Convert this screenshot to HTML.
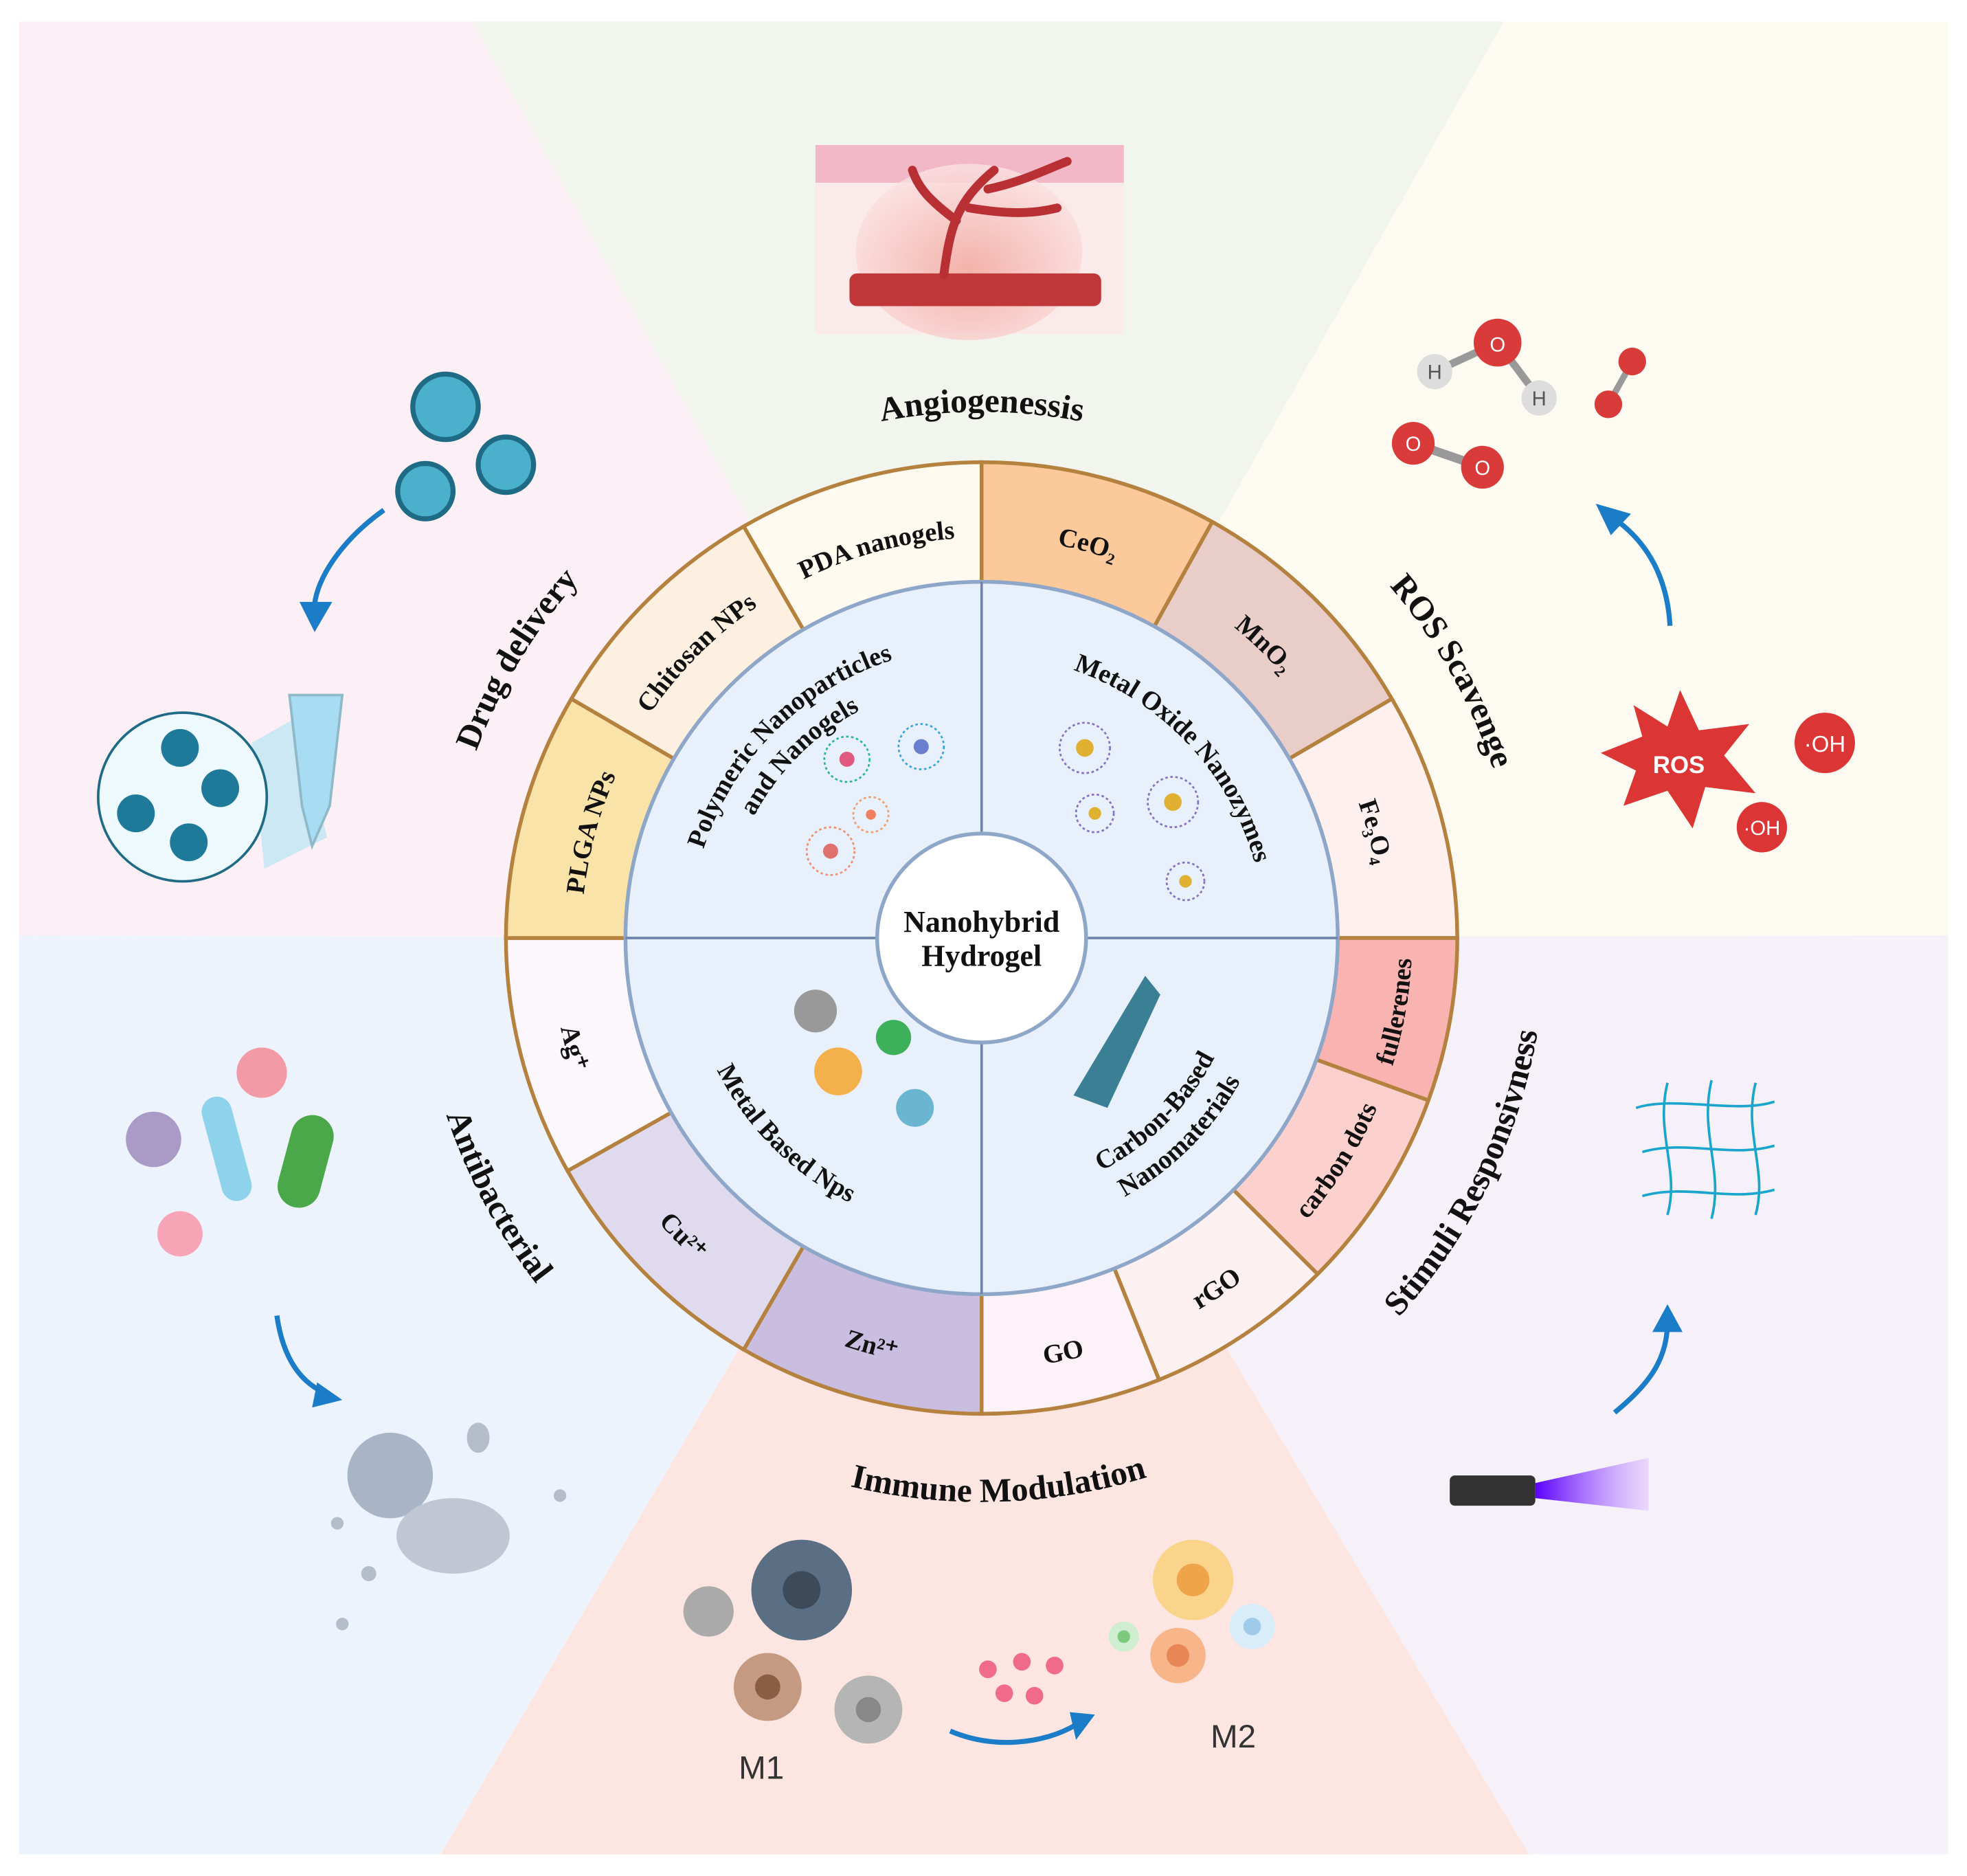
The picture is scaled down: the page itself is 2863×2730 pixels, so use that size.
<!DOCTYPE html>
<html><head><meta charset="utf-8"><style>
html,body{margin:0;padding:0;background:#fff}
svg{display:block}
.t{font-family:"Liberation Serif",serif;font-weight:bold;fill:#111}
.s{font-family:"Liberation Sans",sans-serif}
</style></head><body>
<svg width="2863" height="2730" viewBox="0 0 1563 1490" xmlns="http://www.w3.org/2000/svg">
<defs>
<path id="cw420" d="M780,317 A428,428 0 1 1 780,1173 A428,428 0 1 1 780,317"/>
<path id="cwb418" d="M780,1163 A418,418 0 1 1 780,327 A418,418 0 1 1 780,1163"/>
<path id="ccw448" d="M780,297 A448,448 0 1 0 780,1193 A448,448 0 1 0 780,297"/>
<path id="cw318" d="M780,427 A318,318 0 1 1 780,1063 A318,318 0 1 1 780,427"/>
<path id="ccw342" d="M780,403 A342,342 0 1 0 780,1087 A342,342 0 1 0 780,403"/>
<path id="cw225" d="M780,520 A225,225 0 1 1 780,970 A225,225 0 1 1 780,520"/>
<path id="cw232" d="M780,513 A232,232 0 1 1 780,977 A232,232 0 1 1 780,513"/>
<path id="cw205" d="M780,540 A205,205 0 1 1 780,950 A205,205 0 1 1 780,540"/>
<path id="ccw235" d="M780,510 A235,235 0 1 0 780,980 A235,235 0 1 0 780,510"/>
<path id="ccw208" d="M780,537 A208,208 0 1 0 780,953 A208,208 0 1 0 780,537"/>
<radialGradient id="glow" cx="0.5" cy="0.6" r="0.6"><stop offset="0" stop-color="#f2a49a"/><stop offset="1" stop-color="#fbe3e3"/></radialGradient>
<linearGradient id="laser" x1="0" x2="1"><stop offset="0" stop-color="#5a00ff"/><stop offset="1" stop-color="#e0c0ff" stop-opacity="0.5"/></linearGradient>
</defs>
<rect width="1563" height="1490" fill="#fff"/>
<polygon points="15,17 375,17 780,745 15,743" fill="#fcf0f6"/>
<polygon points="375,17 1195,17 780,745" fill="#f1f5ee"/>
<polygon points="1195,17 1548,17 1548,743 780,745" fill="#fdfbf1"/>
<polygon points="1548,743 1548,1473 1215,1473 780,745" fill="#f6f0f8"/>
<polygon points="1215,1473 350,1473 780,745" fill="#fde6e2"/>
<polygon points="350,1473 15,1473 15,743 780,745" fill="#edf3fc"/>

<g stroke="#b5813e" stroke-width="3">
<path d="M780,745 L780,367 A378,378 0 0 1 963.3,414.4 Z" fill="#fbc99a"/>
<path d="M780,745 L963.3,414.4 A378,378 0 0 1 1106,555 Z" fill="#e8cdc8"/>
<path d="M780,745 L1106,555 A378,378 0 0 1 1158,745 Z" fill="#fdf0ef"/>
<path d="M780,745 L1158,745 A378,378 0 0 1 1135,874 Z" fill="#f9b3b1"/>
<path d="M780,745 L1135,874 A378,378 0 0 1 1047,1012 Z" fill="#fcd0cc"/>
<path d="M780,745 L1047,1012 A378,378 0 0 1 921,1096 Z" fill="#fdf0f0"/>
<path d="M780,745 L921,1096 A378,378 0 0 1 780,1123 Z" fill="#fdf2f8"/>
<path d="M780,745 L780,1123 A378,378 0 0 1 591,1072 Z" fill="#c9bde0"/>
<path d="M780,745 L591,1072 A378,378 0 0 1 451,930 Z" fill="#e0daee"/>
<path d="M780,745 L451,930 A378,378 0 0 1 402,745 Z" fill="#fbf7fc"/>
<path d="M780,745 L402,745 A378,378 0 0 1 454,555 Z" fill="#f9e3a8"/>
<path d="M780,745 L454,555 A378,378 0 0 1 591,418 Z" fill="#fdf0e0"/>
<path d="M780,745 L591,418 A378,378 0 0 1 780,367 Z" fill="#fefaf0"/>
</g>
<circle cx="780" cy="745" r="283" fill="#e8f1fb" stroke="#8ea6c8" stroke-width="3"/>
<line x1="780" y1="462" x2="780" y2="1028" stroke="#6f86aa" stroke-width="2"/>
<line x1="497" y1="745" x2="1063" y2="745" stroke="#6f86aa" stroke-width="2"/>
<circle cx="780" cy="745" r="83" fill="#fff" stroke="#8ea6c8" stroke-width="3"/>
<text class="t" x="780" y="740" font-size="24" text-anchor="middle">Nanohybrid</text>
<text class="t" x="780" y="767" font-size="24" text-anchor="middle">Hydrogel</text>

<g class="t" font-size="21" text-anchor="middle">
<text><textPath href="#cw318" startOffset="95.8%">PDA nanogels</textPath></text>
<text><textPath href="#cw318" startOffset="87.5%">Chitosan NPs</textPath></text>
<text><textPath href="#cw318" startOffset="79.2%">PLGA NPs</textPath></text>
<text><textPath href="#cw318" startOffset="4.2%">CeO₂</textPath></text>
<text><textPath href="#cw318" startOffset="12.2%">MnO₂</textPath></text>
<text><textPath href="#cw318" startOffset="20.8%">Fe₃O₄</textPath></text>
<text><textPath href="#ccw342" startOffset="72.2%">fullerenes</textPath></text>
<text><textPath href="#ccw342" startOffset="66.1%">carbon dots</textPath></text>
<text><textPath href="#ccw342" startOffset="59.4%">rGO</textPath></text>
<text><textPath href="#ccw342" startOffset="53.1%">GO</textPath></text>
<text><textPath href="#ccw342" startOffset="45.8%">Zn²⁺</textPath></text>
<text><textPath href="#ccw342" startOffset="37.5%">Cu²⁺</textPath></text>
<text><textPath href="#ccw342" startOffset="29.2%">Ag⁺</textPath></text>
</g>
<g class="t" font-size="21" text-anchor="middle">
<text><textPath href="#cw232" startOffset="87.5%">Polymeric Nanoparticles</textPath></text>
<text><textPath href="#cw205" startOffset="87.5%">and Nanogels</textPath></text>
<text><textPath href="#cw225" startOffset="13%">Metal Oxide Nanozymes</textPath></text>
<text><textPath href="#ccw235" startOffset="37.5%">Metal Based Nps</textPath></text>
<text><textPath href="#ccw208" startOffset="62.5%">Carbon-Based</textPath></text>
<text><textPath href="#ccw235" startOffset="62.5%">Nanomaterials</textPath></text>
</g>
<g class="t" font-size="27" text-anchor="middle">
<text><textPath href="#cwb418" startOffset="50%">Angiogenessis</textPath></text>
<text><textPath href="#cw420" startOffset="16.8%">ROS Scavenge</textPath></text>
<text><textPath href="#cw420" startOffset="83.6%">Drug delivery</textPath></text>
<text><textPath href="#ccw448" startOffset="50.5%">Immune Modulation</textPath></text>
<text><textPath href="#ccw448" startOffset="67.8%">Stimuli Responsivness</textPath></text>
<text><textPath href="#ccw448" startOffset="32.8%">Antibacterial</textPath></text>
</g>

<g fill="none" stroke-width="1.5">
<circle cx="673" cy="603" r="18" stroke="#2bb3a0" stroke-dasharray="2 2"/><circle cx="673" cy="603" r="6" fill="#e05a80"/>
<circle cx="732" cy="593" r="18" stroke="#3aa6d8" stroke-dasharray="2 2"/><circle cx="732" cy="593" r="6" fill="#6a7fd0"/>
<circle cx="692" cy="647" r="14" stroke="#f0a070" stroke-dasharray="2 2"/><circle cx="692" cy="647" r="4" fill="#f08060"/>
<circle cx="660" cy="676" r="19" stroke="#f09070" stroke-dasharray="2 2"/><circle cx="660" cy="676" r="6" fill="#e07070"/>
<circle cx="862" cy="594" r="20" stroke="#8a70c0" stroke-dasharray="2 2"/><circle cx="862" cy="594" r="7" fill="#e0b030"/>
<circle cx="932" cy="637" r="20" stroke="#8a70c0" stroke-dasharray="2 2"/><circle cx="932" cy="637" r="7" fill="#e0b030"/>
<circle cx="870" cy="646" r="15" stroke="#8a70c0" stroke-dasharray="2 2"/><circle cx="870" cy="646" r="5" fill="#e0b030"/>
<circle cx="942" cy="700" r="15" stroke="#8a70c0" stroke-dasharray="2 2"/><circle cx="942" cy="700" r="5" fill="#e0b030"/>
</g>
<circle cx="648" cy="803" r="17" fill="#999"/>
<circle cx="710" cy="824" r="14" fill="#3db05a"/>
<circle cx="666" cy="851" r="19" fill="#f4b04a"/>
<circle cx="727" cy="880" r="15" fill="#6ab5d0"/>
<polygon points="853,870 910,775 922,790 880,880" fill="#3a7f94"/>

<rect x="648" y="115" width="245" height="150" fill="#fbeaea"/>
<rect x="648" y="115" width="245" height="30" fill="#f2b8c8"/>
<ellipse cx="770" cy="200" rx="90" ry="70" fill="url(#glow)" opacity="0.8"/>
<rect x="675" y="217" width="200" height="26" rx="6" fill="#c0373a"/>
<g stroke="#b83034" stroke-width="7" fill="none" stroke-linecap="round">
<path d="M750,218 C755,180 760,160 790,135"/><path d="M760,175 C740,160 730,150 725,135"/>
<path d="M785,150 C810,145 830,135 848,128"/><path d="M770,165 C800,170 820,170 840,165"/>
</g>
<g class="s" font-size="16" text-anchor="middle">
<line x1="1140" y1="295" x2="1190" y2="272" stroke="#999" stroke-width="6"/><line x1="1190" y1="272" x2="1223" y2="316" stroke="#999" stroke-width="6"/>
<circle cx="1190" cy="272" r="19" fill="#d93a3a"/><text x="1190" y="279" fill="#fff">O</text>
<circle cx="1140" cy="295" r="14" fill="#ddd"/><text x="1140" y="301" fill="#555">H</text>
<circle cx="1223" cy="316" r="14" fill="#ddd"/><text x="1223" y="322" fill="#555">H</text>
<line x1="1123" y1="352" x2="1178" y2="371" stroke="#999" stroke-width="7"/>
<circle cx="1123" cy="352" r="17" fill="#d93a3a"/><text x="1123" y="358" fill="#fff">O</text>
<circle cx="1178" cy="371" r="17" fill="#d93a3a"/><text x="1178" y="377" fill="#fff">O</text>
<line x1="1278" y1="321" x2="1297" y2="287" stroke="#999" stroke-width="5"/>
<circle cx="1278" cy="321" r="11" fill="#d93a3a"/><circle cx="1297" cy="287" r="11" fill="#d93a3a"/>
<polygon points="1335,548 1350,580 1390,575 1370,600 1395,630 1355,625 1345,658 1325,628 1290,640 1300,612 1272,598 1305,585 1298,560 1325,577" fill="#dc3535"/>
<text x="1334" y="614" fill="#fff" font-weight="bold" font-size="19">ROS</text>
<circle cx="1450" cy="590" r="24" fill="#dc3535"/><text x="1450" y="597" fill="#fff" font-size="18">·OH</text>
<circle cx="1400" cy="657" r="20" fill="#dc3535"/><text x="1400" y="663" fill="#fff" font-size="16">·OH</text>
</g>
<path d="M1327,497 C1325,460 1310,430 1280,410" fill="none" stroke="#1b7cc7" stroke-width="4"/>
<polygon points="1268,400 1296,408 1280,425" fill="#1b7cc7"/>
<g stroke="#1f6a85" stroke-width="4">
<circle cx="354" cy="323" r="26" fill="#4bb0cc"/><circle cx="338" cy="390" r="22" fill="#4bb0cc"/><circle cx="402" cy="369" r="22" fill="#4bb0cc"/>
</g>
<path d="M305,405 C270,430 252,460 250,480" fill="none" stroke="#1b7cc7" stroke-width="4"/>
<polygon points="238,478 264,478 250,502" fill="#1b7cc7"/>
<polygon points="200,590 235,570 260,665 210,690" fill="#bfe6f5" opacity="0.8"/>
<circle cx="145" cy="633" r="67" fill="#eef9fd" stroke="#1f6a85" stroke-width="2"/>
<g fill="#1f7a9a"><circle cx="143" cy="594" r="15"/><circle cx="108" cy="646" r="15"/><circle cx="175" cy="626" r="15"/><circle cx="150" cy="669" r="15"/></g>
<path d="M230,552 L272,552 L262,640 L248,672 L240,640 Z" fill="#a8dcf3" stroke="#8fb8c8" stroke-width="2"/>
<circle cx="122" cy="905" r="22" fill="#a99bc6"/>
<rect x="168" y="870" width="24" height="85" rx="12" fill="#8fd2ec" transform="rotate(-15 180 912)"/>
<circle cx="208" cy="852" r="20" fill="#f39aa7"/>
<rect x="226" y="885" width="34" height="75" rx="17" fill="#4aa84a" transform="rotate(15 243 922)"/>
<circle cx="143" cy="980" r="18" fill="#f7a4b6"/>
<path d="M220,1045 C225,1080 240,1100 262,1108" fill="none" stroke="#1b7cc7" stroke-width="4"/>
<polygon points="252,1098 272,1112 248,1118" fill="#1b7cc7"/>
<circle cx="310" cy="1172" r="34" fill="#a9b4c6"/>
<ellipse cx="360" cy="1220" rx="45" ry="30" fill="#c0c6d2"/>
<g fill="#b5bdcb"><circle cx="268" cy="1210" r="5"/><circle cx="272" cy="1290" r="5"/><circle cx="445" cy="1188" r="5"/><ellipse cx="380" cy="1142" rx="9" ry="12"/><circle cx="293" cy="1250" r="6"/></g>
<g>
<circle cx="637" cy="1263" r="40" fill="#5b6f84"/><circle cx="637" cy="1263" r="15" fill="#3c4a5a"/>
<circle cx="563" cy="1280" r="20" fill="#aaa"/>
<circle cx="610" cy="1340" r="27" fill="#c49a82"/><circle cx="610" cy="1340" r="10" fill="#8b5d44"/>
<circle cx="690" cy="1358" r="27" fill="#b5b5b5"/><circle cx="690" cy="1358" r="10" fill="#888"/>
<circle cx="948" cy="1255" r="32" fill="#fad48a"/><circle cx="948" cy="1255" r="13" fill="#f0a44a"/>
<circle cx="936" cy="1315" r="22" fill="#f8b58a"/><circle cx="936" cy="1315" r="9" fill="#e88755"/>
<circle cx="995" cy="1292" r="18" fill="#d9ecfa"/><circle cx="995" cy="1292" r="7" fill="#9fcbe8"/>
<circle cx="893" cy="1300" r="12" fill="#cfeecf"/><circle cx="893" cy="1300" r="5" fill="#7cc87c"/>
<g fill="#f06a8a"><circle cx="785" cy="1326" r="7"/><circle cx="812" cy="1320" r="7"/><circle cx="838" cy="1323" r="7"/><circle cx="798" cy="1345" r="7"/><circle cx="822" cy="1347" r="7"/></g>
<path d="M755,1375 C790,1390 830,1385 855,1370" fill="none" stroke="#1b7cc7" stroke-width="4"/>
<polygon points="850,1360 870,1362 855,1382" fill="#1b7cc7"/>
<text class="s" x="605" y="1413" font-size="26" fill="#333" text-anchor="middle">M1</text>
<text class="s" x="980" y="1388" font-size="26" fill="#333" text-anchor="middle">M2</text>
</g>
<g stroke="#1aa6cc" stroke-width="2" fill="none">
<path d="M1300,880 C1330,870 1380,885 1410,875"/><path d="M1305,915 C1340,905 1375,920 1410,910"/><path d="M1305,950 C1340,940 1375,955 1410,945"/>
<path d="M1325,860 C1315,900 1335,930 1325,965"/><path d="M1360,858 C1350,900 1370,930 1360,968"/><path d="M1395,860 C1385,900 1405,930 1395,965"/>
</g>
<path d="M1283,1122 C1310,1100 1325,1080 1325,1050" fill="none" stroke="#1b7cc7" stroke-width="4"/>
<polygon points="1313,1058 1337,1058 1325,1036" fill="#1b7cc7"/>
<rect x="1152" y="1172" width="68" height="24" rx="4" fill="#333"/>
<polygon points="1220,1178 1310,1158 1310,1200 1220,1190" fill="url(#laser)"/>
</svg>
</body></html>
